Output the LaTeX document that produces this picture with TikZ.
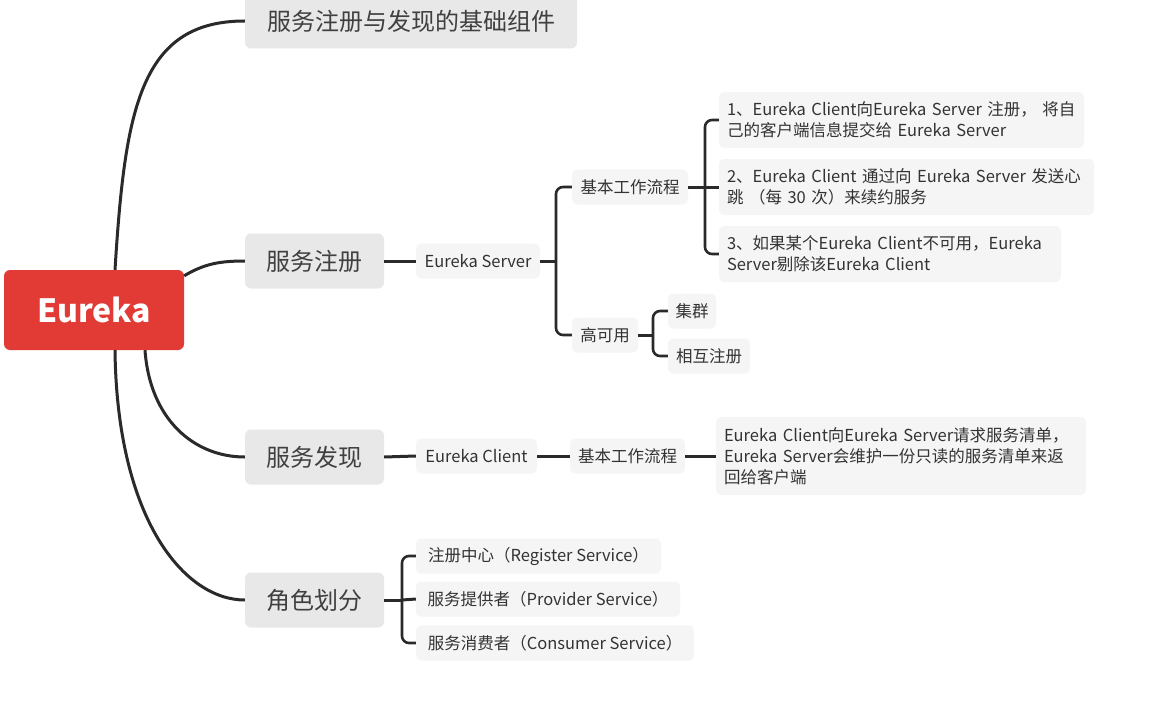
\documentclass[tikz,border=0pt]{standalone}
\usepackage{fontspec}
\setmainfont{Noto Sans CJK SC}
\definecolor{rootc}{HTML}{E23B36}
\definecolor{lone}{HTML}{E8E8E8}
\definecolor{ltwo}{HTML}{F5F5F5}
\definecolor{tone}{HTML}{404040}
\definecolor{ttwo}{HTML}{333333}
\definecolor{linec}{HTML}{2A2A2A}
\begin{document}
\begin{tikzpicture}[x=1pt,y=-1pt,
  lk/.style={line width=3pt, draw=linec},
  br/.style={line width=2.6pt, draw=linec, rounded corners=7pt},
  rootbox/.style={fill=rootc, text=white, rounded corners=6pt, minimum width=180pt, minimum height=80pt, inner sep=0pt, font=\fontsize{32}{36}\selectfont\bfseries},
  lvone/.style={fill=lone, text=tone, rounded corners=6pt, minimum height=55pt, inner sep=0pt, font=\fontsize{24}{28}\selectfont},
  lvtwo/.style={fill=ltwo, text=ttwo, rounded corners=5pt, minimum height=35pt, inner sep=0pt, font=\fontsize{16.5}{21}\selectfont},
  txtbox/.style={fill=ltwo, text=ttwo, rounded corners=5pt, inner xsep=8pt, inner ysep=0pt, align=left, font=\fontsize{16.5}{21}\selectfont},
]
\useasboundingbox (0,0) rectangle (1150,706);
\fill[white] (0,0) rectangle (1150,706);

% root and level one
\node[rootbox] (root) at (94,310) {Eureka};
\node[lvone, minimum width=332pt] (top) at (411,21) {服务注册与发现的基础组件};
\node[lvone, minimum width=139pt] (reg) at (314.5,261) {服务注册};
\node[lvone, minimum width=139pt] (dis) at (314.5,457) {服务发现};
\node[lvone, minimum width=139pt] (role) at (314.5,600) {角色划分};

% registration branch
\node[lvtwo, minimum width=124pt] (es) at (478,261) {Eureka Server};
\node[lvtwo, minimum width=116pt] (wf) at (630,187) {基本工作流程};
\node[lvtwo, minimum width=66pt] (ha) at (605,335) {高可用};
\node[lvtwo, minimum width=48pt] (jq) at (692,311) {集群};
\node[lvtwo, minimum width=82pt] (hx) at (709,356) {相互注册};
\node[txtbox, text width=349pt, minimum height=56pt] (ta) at (901.5,120)
  {\mbox{1、Eureka Client向Eureka Server 注册， 将自}\\\mbox{己的客户端信息提交给 Eureka Server}};
\node[txtbox, text width=359pt, minimum height=56pt] (tb) at (906.5,187)
  {\mbox{2、Eureka Client 通过向 Eureka Server 发送心}\\\mbox{跳 （每 30 次）来续约服务}};
\node[txtbox, text width=326pt, minimum height=56pt] (tc) at (890,254)
  {\mbox{3、如果某个Eureka Client不可用，Eureka}\\\mbox{Server剔除该Eureka Client}};

% discovery branch
\node[lvtwo, minimum width=121pt] (ec) at (476.5,456) {Eureka Client};
\node[lvtwo, minimum width=115pt] (wfb) at (627.5,456) {基本工作流程};
\node[txtbox, text width=354pt, minimum height=78pt] (td) at (901,456)
  {\mbox{Eureka Client向Eureka Server请求服务清单，}\\\mbox{Eureka Server会维护一份只读的服务清单来返}\\\mbox{回给客户端}};

% roles branch
\node[lvtwo, minimum width=245pt] (ra) at (538.5,556) {注册中心（Register Service）};
\node[lvtwo, minimum width=264pt] (rb) at (548,599) {服务提供者（Provider Service）};
\node[lvtwo, minimum width=278pt] (rc) at (555,643) {服务消费者（Consumer Service）};

% main curves
\draw[lk] ([xshift=21pt]root.north) .. controls +(10,-160) and +(-105,0) .. (top.west);
\draw[lk] ([yshift=-6pt]root.north east) .. controls +(20,-12) and +(-25,0) .. (reg.west);
\draw[lk] ([xshift=51pt]root.south) .. controls +(5,70) and +(-50,0) .. (dis.west);
\draw[lk] ([xshift=21pt]root.south) .. controls +(2,170) and +(-60,0) .. (role.west);

% registration connectors
\coordinate (ja) at (556,261);
\coordinate (jb) at (705,187);
\coordinate (jc) at (653,335);
\draw[lk] (reg.east) -- (es.west);
\draw[lk] (es.east) -- (ja);
\draw[br] (wf.west) -| (ja) |- (ha.west);
\draw[lk] (wf.east) -- (jb);
\draw[br] (ta.west) -| (jb) |- (tc.west);
\draw[lk] (jb) -- (tb.west);
\draw[lk] (ha.east) -- (jc);
\draw[br] (jq.west) -| (jc) |- (hx.west);

% discovery connectors
\draw[lk] (dis.east) -- (ec.west);
\draw[lk] (ec.east) -- (wfb.west);
\draw[lk] (wfb.east) -- (td.west);

% roles connectors
\coordinate (jd) at (402,600);
\draw[lk] (role.east) -- (jd);
\draw[br] (ra.west) -| (jd) |- (rc.west);
\draw[lk] (jd) -- (rb.west);
\end{tikzpicture}
\end{document}
